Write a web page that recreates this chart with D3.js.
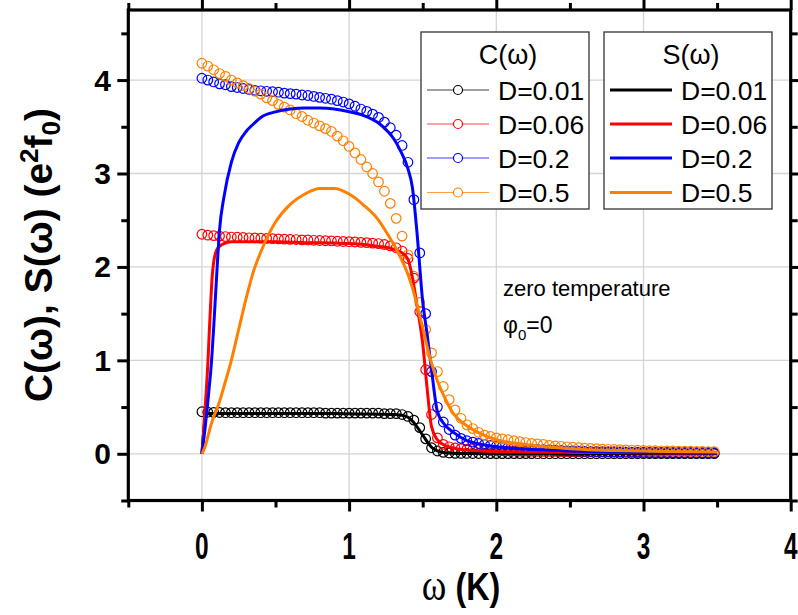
<!DOCTYPE html>
<html><head><meta charset="utf-8">
<script src="https://cdn.jsdelivr.net/npm/d3@7"></script>
<style>body{margin:0;background:#fff}svg{display:block}text{font-family:"Liberation Sans",Arial,sans-serif}</style>
</head><body><svg id="c" width="798" height="615"></svg>
<script>
// ---- data ----
const omegaC = [0,0.04,0.08,0.12,0.16,0.2,0.24,0.28,0.32,0.36,0.4,0.44,0.48,0.52,0.56,0.6,0.64,0.68,0.72,0.76,0.8,0.84,0.88,0.92,0.96,1,1.04,1.08,1.12,1.16,1.2,1.24,1.28,1.32,1.36,1.4,1.44,1.48,1.52,1.56,1.6,1.64,1.68,1.72,1.76,1.8,1.84,1.88,1.92,1.96,2,2.04,2.08,2.12,2.16,2.2,2.24,2.28,2.32,2.36,2.4,2.44,2.48,2.52,2.56,2.6,2.64,2.68,2.72,2.76,2.8,2.84,2.88,2.92,2.96,3,3.04,3.08,3.12,3.16,3.2,3.24,3.28,3.32,3.36,3.4,3.44,3.48];
const cD001 = [0.45,0.445,0.443,0.442,0.44,0.44,0.44,0.44,0.44,0.44,0.44,0.44,0.44,0.44,0.44,0.44,0.44,0.44,0.44,0.44,0.44,0.435,0.435,0.435,0.435,0.435,0.435,0.435,0.435,0.435,0.435,0.43,0.43,0.43,0.42,0.40,0.36,0.28,0.16,0.065,0.03,0.015,0.008,0.005,0.004,0.004,0.003,0.003,0.003,0.002,0.002,0.002,0.002,0.002,0.002,0.002,0.002,0.001,0.001,0.001,0.001,0.001,0.001,0.001,0.001,0.001,0.001,0.001,0.001,0.001,0.001,0.001,0.001,0.001,0.001,0.001,0.001,0.001,0.001,0.001,0.001,0.001,0.001,0.001,0.001,0.001,0.001,0.001];
const cD006 = [2.35,2.34,2.335,2.33,2.325,2.32,2.318,2.315,2.312,2.31,2.308,2.305,2.303,2.3,2.298,2.295,2.293,2.29,2.288,2.285,2.283,2.28,2.278,2.275,2.272,2.27,2.267,2.263,2.26,2.255,2.25,2.24,2.225,2.205,2.17,2.09,1.88,1.52,0.9,0.42,0.17,0.1,0.075,0.062,0.055,0.05,0.046,0.043,0.04,0.038,0.036,0.034,0.032,0.031,0.03,0.029,0.028,0.027,0.026,0.025,0.025,0.024,0.023,0.023,0.022,0.022,0.021,0.021,0.02,0.02,0.019,0.019,0.018,0.018,0.018,0.017,0.017,0.017,0.016,0.016,0.016,0.015,0.015,0.015,0.015,0.014,0.014,0.014];
const cD02 = [4.02,4.0,3.98,3.96,3.95,3.93,3.92,3.91,3.9,3.89,3.885,3.88,3.875,3.87,3.86,3.855,3.85,3.84,3.835,3.825,3.815,3.805,3.795,3.78,3.765,3.745,3.72,3.69,3.665,3.635,3.6,3.55,3.49,3.41,3.3,3.12,2.72,2.15,1.5,0.88,0.5,0.34,0.26,0.2,0.165,0.14,0.125,0.11,0.1,0.09,0.08,0.075,0.07,0.065,0.06,0.055,0.05,0.047,0.044,0.041,0.038,0.035,0.032,0.03,0.028,0.026,0.024,0.022,0.021,0.02,0.019,0.018,0.017,0.016,0.015,0.014,0.013,0.012,0.011,0.011,0.01,0.01,0.009,0.009,0.008,0.008,0.007,0.007];
const cD05 = [4.18,4.15,4.11,4.07,4.04,4.0,3.97,3.94,3.91,3.88,3.85,3.81,3.78,3.74,3.71,3.68,3.64,3.61,3.57,3.54,3.51,3.48,3.45,3.4,3.35,3.29,3.22,3.15,3.07,3.0,2.91,2.81,2.68,2.52,2.33,2.13,1.9,1.62,1.33,1.08,0.88,0.72,0.58,0.47,0.38,0.31,0.27,0.23,0.2,0.185,0.17,0.16,0.15,0.14,0.13,0.12,0.11,0.105,0.1,0.09,0.085,0.08,0.075,0.07,0.065,0.06,0.057,0.054,0.05,0.048,0.046,0.044,0.042,0.04,0.038,0.036,0.034,0.033,0.032,0.031,0.03,0.029,0.028,0.027,0.026,0.025,0.024,0.023];

const omegaS = [0,0.01,0.02,0.03,0.04,0.05,0.06,0.07,0.08,0.1,0.12,0.15,0.2,0.25,0.3,0.35,0.4,0.5,0.6,0.7,0.8,0.9,1.0,1.1,1.2,1.25,1.3,1.35,1.4,1.43,1.46,1.5,1.53,1.56,1.6,1.65,1.7,1.8,1.9,2.0,2.2,2.5,3.0,3.5];
const sD001 = [0,0.2,0.36,0.41,0.425,0.43,0.43,0.43,0.43,0.43,0.43,0.43,0.43,0.43,0.43,0.43,0.43,0.43,0.43,0.43,0.43,0.43,0.428,0.426,0.424,0.422,0.42,0.415,0.39,0.35,0.29,0.2,0.13,0.07,0.03,0.012,0.006,0.003,0.002,0.001,0.001,0,0,0];
const sD006 = [0,0.2,0.45,0.68,0.95,1.3,1.62,1.9,2.05,2.18,2.22,2.25,2.27,2.27,2.27,2.27,2.27,2.27,2.265,2.26,2.26,2.255,2.25,2.24,2.22,2.21,2.19,2.16,2.08,1.89,1.6,1.18,0.7,0.29,0.15,0.09,0.065,0.04,0.03,0.025,0.02,0.015,0.01,0.008];
const sD02 = [0,0.12,0.25,0.4,0.55,0.72,0.88,1.1,1.35,1.9,2.4,2.75,3.12,3.33,3.45,3.53,3.6,3.66,3.69,3.7,3.7,3.69,3.66,3.62,3.54,3.47,3.38,3.24,3.05,2.85,2.39,1.63,1.28,0.9,0.45,0.31,0.24,0.14,0.1,0.075,0.05,0.03,0.015,0.008];
const sD05 = [0,0.03,0.07,0.12,0.18,0.24,0.3,0.35,0.4,0.47,0.56,0.72,1.0,1.33,1.66,1.95,2.16,2.48,2.67,2.78,2.84,2.84,2.78,2.66,2.5,2.38,2.25,2.1,1.92,1.78,1.6,1.35,1.15,0.97,0.78,0.6,0.45,0.3,0.21,0.15,0.1,0.055,0.03,0.02];

const legendLabels = ["D=0.01","D=0.06","D=0.2","D=0.5"];
const seriesColors = ["#000000","#ff0000","#0000ff","#ff8000"];
const xMajor = [0,1,2,3,4];
const xMinor = [-0.5,0.5,1.5,2.5,3.5];
const yMajor = [0,1,2,3,4];
const yMinor = [-0.5,0.5,1.5,2.5,3.5,4.5];

const cSeries = [cD001,cD006,cD02,cD05];
const sSeries = [sD001,sD006,sD02,sD05];

// ---- chart ----
const svg = d3.select("#c");
const L=128.3, R=790.7, T=10, B=500.5;
const x = d3.scaleLinear().domain([-0.5,4]).range([L,R]);
const y = d3.scaleLinear().domain([-0.5,4.75]).range([B,T]);

// grid
const g = svg.append("g");
g.selectAll(".gx").data(xMajor.filter(v=>v<4)).join("line")
 .attr("x1",d=>x(d)).attr("x2",d=>x(d)).attr("y1",T).attr("y2",B)
 .attr("stroke","#d4d4d4").attr("stroke-width",1.3);
g.selectAll(".gy").data(yMajor).join("line")
 .attr("x1",L).attr("x2",R).attr("y1",d=>y(d)).attr("y2",d=>y(d))
 .attr("stroke","#d4d4d4").attr("stroke-width",1.3);

// C circles
const plot = svg.append("g");
cSeries.forEach((vals,k)=>{
  plot.append("g").selectAll("circle").data(vals).join("circle")
   .attr("cx",(d,i)=>x(omegaC[i])).attr("cy",d=>y(d)).attr("r",4.8)
   .attr("fill","none").attr("stroke",seriesColors[k]).attr("stroke-width",1.2);
});
// S lines
const line = d3.line().x((d,i)=>x(omegaS[i])).y(d=>y(d)).curve(d3.curveMonotoneX);
sSeries.forEach((vals,k)=>{
  plot.append("path").datum(vals).attr("d",line)
   .attr("fill","none").attr("stroke",seriesColors[k]).attr("stroke-width",3)
   .attr("stroke-linejoin","round");
});

// axes ticks
function ticks(axisGen, tr){
  const a = svg.append("g").attr("transform",tr).call(axisGen);
  a.select(".domain").remove();
  a.selectAll(".tick line").attr("stroke","#000").attr("stroke-width",3);
  a.selectAll(".tick text").remove();
}
ticks(d3.axisBottom(x).tickValues(xMajor).tickSize(11), `translate(0,${B})`);
ticks(d3.axisBottom(x).tickValues(xMinor).tickSize(7), `translate(0,${B})`);
ticks(d3.axisTop(x).tickValues(xMajor).tickSize(11), `translate(0,${T})`);
ticks(d3.axisTop(x).tickValues(xMinor).tickSize(7), `translate(0,${T})`);
ticks(d3.axisLeft(y).tickValues(yMajor).tickSize(11), `translate(${L},0)`);
ticks(d3.axisLeft(y).tickValues(yMinor).tickSize(7), `translate(${L},0)`);
ticks(d3.axisRight(y).tickValues(yMajor).tickSize(11), `translate(${R},0)`);
ticks(d3.axisRight(y).tickValues(yMinor).tickSize(7), `translate(${R},0)`);

// frame
svg.append("rect").attr("x",L).attr("y",T).attr("width",R-L).attr("height",B-T)
 .attr("fill","none").attr("stroke","#000").attr("stroke-width",3.2);

// tick labels
svg.append("g").selectAll("text").data(yMajor).join("text")
 .attr("x",111).attr("y",d=>y(d)+10.5).attr("text-anchor","end")
 .attr("font-size",30).attr("font-weight","bold").text(d=>d);
svg.append("g").selectAll("text").data(xMajor).join("text")
 .attr("transform",d=>`translate(${x(d)},559) scale(0.68,1)`).attr("text-anchor","middle")
 .attr("font-size",36).attr("font-weight","bold").text(d=>d);

// axis titles
const xt = svg.append("text").attr("transform","translate(461,600) scale(0.85,1)")
 .attr("text-anchor","middle").attr("font-size",38);
xt.append("tspan").attr("font-family","'Liberation Serif',serif").attr("font-size",44).text("ω");
xt.append("tspan").attr("font-weight","bold").text(" (K)");

const yt = svg.append("text").attr("transform","translate(52,255) rotate(-90)")
 .attr("text-anchor","middle").attr("font-size",39).attr("font-weight","bold");
yt.append("tspan").text("C(ω), S(ω) (e");
yt.append("tspan").attr("font-size",26).attr("dy",-14).text("2");
yt.append("tspan").attr("dy",14).text("f");
yt.append("tspan").attr("font-size",26).attr("dy",8).text("0");
yt.append("tspan").attr("dy",-8).text(")");

// legends
const rowY = [90,124,158,192.5];
function legend(x0, title, withCircle, lw, op){
  svg.append("rect").attr("x",x0).attr("y",32).attr("width",168).attr("height",177)
   .attr("fill","#fff").attr("stroke","#333").attr("stroke-width",1.3);
  svg.append("text").attr("x",x0+87).attr("y",64).attr("text-anchor","middle")
   .attr("font-size",27).text(title);
  legendLabels.forEach((lab,k)=>{
    const yy = rowY[k];
    svg.append("line").attr("x1",x0+6).attr("x2",x0+68).attr("y1",yy).attr("y2",yy)
     .attr("stroke",seriesColors[k]).attr("stroke-width",lw).attr("opacity",op);
    if(withCircle) svg.append("circle").attr("cx",x0+37).attr("cy",yy).attr("r",4.5)
     .attr("fill","#fff").attr("stroke",seriesColors[k]).attr("stroke-width",1.2);
    svg.append("text").attr("x",x0+77).attr("y",yy+9.5).attr("font-size",26.5).text(lab);
  });
}
legend(421,"C(ω)",true,1.2,0.75);
legend(604,"S(ω)",false,3,1);

// annotation
svg.append("text").attr("x",503).attr("y",296).attr("font-size",22).text("zero temperature");
const ph = svg.append("text").attr("x",503).attr("y",333).attr("font-size",23);
ph.append("tspan").text("φ");
ph.append("tspan").attr("font-size",15).attr("dy",7).text("0");
ph.append("tspan").attr("dy",-7).text("=0");
</script></body></html>
